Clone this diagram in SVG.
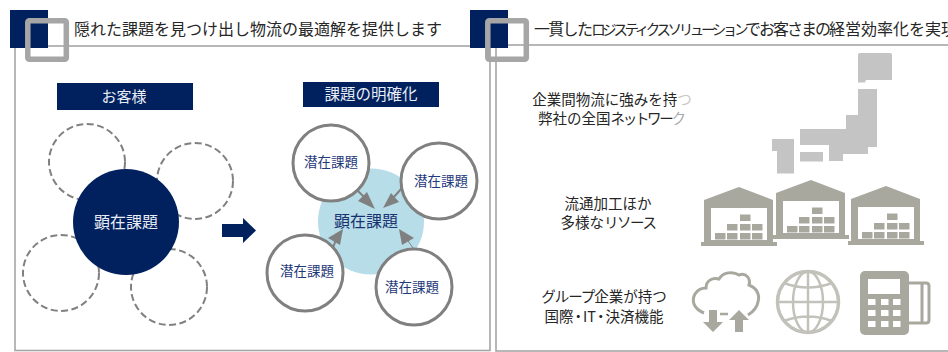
<svg xmlns="http://www.w3.org/2000/svg" xmlns:xlink="http://www.w3.org/1999/xlink" width="948" height="352" viewBox="0 0 948 352">
<style>
text{font-family:"Noto Sans CJK JP","Meiryo UI","Noto Sans",sans-serif}
.panel{fill:none;stroke:#a6a6a6;stroke-width:1.6}
.navy{fill:#00205e}
.frame{fill:none;stroke:#a6a6a6;stroke-width:5.5}
.title{font-size:16px;fill:#262626}
.head{font-size:15px;fill:#e8ecf4;text-anchor:middle}
.dash{fill:#fff;stroke:#808080;stroke-width:2;stroke-dasharray:7 3.5}
.solid{fill:#fff;stroke:#808080;stroke-width:3}
.lat{font-size:13.5px;fill:#1f3a7a;text-anchor:middle}
.desc{font-size:14.5px;fill:#262626;text-anchor:middle}
.ware{fill:#a9a89f}
.line{stroke:#808080;stroke-width:2;fill:none}
.head-a{fill:#808080}
.map{fill:#c4c4c4}
.ico{fill:none;stroke:#a9a89f;stroke-width:3}
.glb{fill:none;stroke:#c2c2bb;stroke-width:2.5}
</style>
<defs>
<g id="warehouse">
<path class="ware" d="M704 200L739 187L773 200V242H777V246H701V242H704Z"/>
<rect x="711" y="208" width="56" height="32" fill="#fff"/>
<g class="ware">
<rect x="715" y="233" width="10.5" height="6.5"/><rect x="727" y="233" width="10.5" height="6.5"/><rect x="740" y="233" width="10.5" height="6.5"/><rect x="752" y="233" width="10.5" height="6.5"/>
<rect x="727" y="224" width="10.5" height="6.5"/><rect x="740" y="224" width="10.5" height="6.5"/><rect x="752" y="224" width="10.5" height="6.5"/>
<rect x="740" y="214.500" width="10.5" height="6.5"/>
</g>
</g>
</defs>
<rect width="948" height="352" fill="#fff"/>

<g id="panel-left">
<rect class="panel" x="15" y="46" width="475" height="304.500"/>
<rect class="navy" x="10" y="10" width="38" height="38"/>
<rect class="frame" x="27.800" y="20.800" width="38.500" height="38.500" rx="1.500"/>
<text class="title" x="74" y="35">隠れた課題を見つけ出し物流の最適解を提供します</text>
</g>
<g id="panel-right">
<rect class="panel" x="496" y="45" width="460" height="306"/>
<rect class="navy" x="470" y="10" width="38" height="38"/>
<rect class="frame" x="487.800" y="20.800" width="38.500" height="38.500" rx="1.500"/>
<text class="title" x="534" y="35"><tspan letter-spacing="-1.700">一貫した</tspan><tspan font-size="14.5" letter-spacing="-3.400">ロジスティクスソリューション</tspan><tspan letter-spacing="-2">でお客さまの</tspan>経営効率化を実現</text>
</g>

<g id="header-customer"><rect class="navy" x="57" y="83" width="136" height="27"/><text class="head" x="124" y="102">お客様</text></g>
<g id="header-clarify"><rect class="navy" x="303" y="82" width="136" height="25"/><text class="head" x="371" y="100" style="font-size:15.500px">課題の明確化</text></g>

<g id="left-latent">
<circle class="dash" cx="87" cy="162" r="38"/>
<circle class="dash" cx="195" cy="181" r="38"/>
<circle class="dash" cx="61" cy="273" r="38"/>
<circle class="dash" cx="169" cy="287" r="38"/>
</g>
<g id="left-core"><circle class="navy" cx="126" cy="222" r="53"/><text x="126" y="228" font-size="16" fill="#e8ecf4" text-anchor="middle">顕在課題</text></g>
<g id="big-arrow"><path class="navy" d="M222 224H243V218L256 230.500L243 243V237H222Z"/></g>

<g id="right-core"><circle cx="371" cy="221.500" r="53" fill="#b7dde8"/><text x="366" y="227" font-size="16" fill="#1a3370" text-anchor="middle">顕在課題</text></g>
<g id="connectors">
<path class="line" d="M358 191L368 201"/><path class="head-a" d="M375 209L358 201L367 192Z"/>
<path class="line" d="M402 188L393 198"/><path class="head-a" d="M383 208L391 193L399 202Z"/>
<path class="line" d="M332 250L336 240"/><path class="head-a" d="M343 229L328 238L340 245Z"/>
<path d="M413 248L406 238" stroke="#808080" stroke-width="1" fill="none"/><path class="head-a" d="M399 229L414 238L402 245Z"/>
</g>
<g id="latent-1"><circle class="solid" cx="331" cy="163" r="38"/><text class="lat" x="331" y="167">潜在課題</text></g>
<g id="latent-2"><circle class="solid" cx="439" cy="181" r="38"/><text class="lat" x="441" y="186">潜在課題</text></g>
<g id="latent-3"><circle class="solid" cx="305" cy="273" r="38"/><text class="lat" x="307" y="276">潜在課題</text></g>
<g id="latent-4"><circle class="solid" cx="414" cy="287" r="38"/><text class="lat" x="412" y="292">潜在課題</text></g>

<g id="label-network"><text class="desc" x="612" y="105">企業間物流に強みを持<tspan fill="#c8c8c8">つ</tspan></text><text class="desc" x="612" y="124">弊社の全国<tspan letter-spacing="-2.300">ネットワー</tspan><tspan fill="#a8a8a8">ク</tspan></text></g>
<g id="label-resource"><text class="desc" x="608" y="209">流通加工ほか</text><text class="desc" x="608" y="228">多様な<tspan letter-spacing="-1.500">リソース</tspan></text></g>
<g id="label-group"><text class="desc" x="604" y="302"><tspan letter-spacing="-1">グループ</tspan>企業が持つ</text><text class="desc" x="604" y="322">国<tspan letter-spacing="-2.500">際・</tspan>I<tspan letter-spacing="-2.500">T・</tspan>決済機能</text></g>

<g id="map" class="map">
<path d="M858 55Q858 53 860 53H890Q892 53 892 55V80H866L865 82.500H858Z"/>
<path d="M858 89H877V147H868V154H843V161H829V145H800V129H846V115H858Z"/>
<rect x="800" y="152" width="23" height="9.500"/>
<path d="M772 139H794V173.500H777V151H772Z"/>
</g>
<g id="warehouses">
<use href="#warehouse"/>
<use href="#warehouse" x="72" y="-7"/>
<use href="#warehouse" x="147" y="-1"/>
</g>
<g id="icon-cloud">
<path class="ico" d="M704 313C694 309 691 301 695 294C698 289 702 288 706 288C706 281 712 277 719 279C723 272 733 271 739 275C746 272 751 279 749 285C757 288 760 295 758 302C757 307 753 312 748 315"/>
<path class="ware" d="M709 310H717V322H723L713 332L703 322H709ZM735 332V320H729L739 310L749 320H743V332Z"/>
<path d="M720 314H728" stroke="#a9a89f" stroke-width="2.500"/>
</g>
<g id="icon-globe" class="glb">
<circle cx="808" cy="302" r="30.500" stroke-width="3.500"/>
<ellipse cx="808" cy="302" rx="15" ry="30.500"/>
<path d="M808 271.500V332.500M777.500 302H838.500M784 283Q808 292 832 283M784 321Q808 312 832 321"/>
</g>
<g id="icon-terminal">
<path class="ico" d="M909 283H926Q929 283 929 286V320Q929 323 926 323H909M922 283V323" stroke-width="3.500"/>
<rect class="ware" x="860" y="271" width="49" height="64" rx="5"/>
<rect x="868" y="279" width="32" height="15" fill="#fff"/>
<g fill="#fff">
<rect x="868" y="299" width="7.500" height="6"/><rect x="881" y="299" width="7.500" height="6"/><rect x="893" y="299" width="7.500" height="6"/>
<rect x="868" y="310" width="7.500" height="6"/><rect x="881" y="310" width="7.500" height="6"/><rect x="893" y="310" width="7.500" height="6"/>
<rect x="868" y="321" width="7.500" height="6"/><rect x="881" y="321" width="7.500" height="6"/><rect x="893" y="321" width="7.500" height="6"/>
</g>
</g>
</svg>
